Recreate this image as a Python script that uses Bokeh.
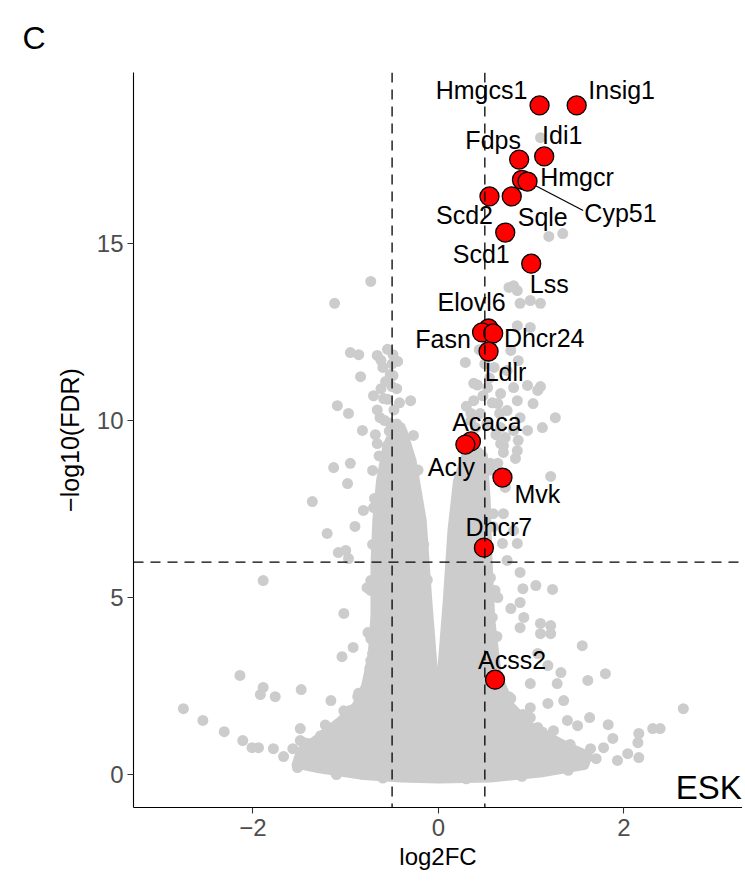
from bokeh.plotting import figure
from bokeh.models import ColumnDataSource, FixedTicker, Span
from bokeh.core.properties import value
from bokeh.embed import file_html
from bokeh.resources import INLINE

# ---------------- data ----------------
# highlighted genes
genes = ["Hmgcs1", "Insig1", "Idi1", "Fdps", "Hmgcr", "Cyp51", "Scd2", "Sqle", "Scd1", "Lss",
         "Elovl6", "Fasn", "Dhcr24", "Ldlr", "Acaca", "Acly", "Mvk", "Dhcr7", "Acss2"]
gene_log2fc = [1.09, 1.49, 1.14, 0.87, 0.90, 0.96, 0.55, 0.79, 0.72, 1.00,
               0.54, 0.47, 0.59, 0.54, 0.35, 0.29, 0.69, 0.49, 0.61]
gene_mlog10fdr = [18.9, 18.9, 17.46, 17.37, 16.80, 16.75, 16.33, 16.33, 15.31, 14.43,
                  12.60, 12.49, 12.46, 11.95, 9.41, 9.32, 8.39, 6.41, 2.68]

# scattered background genes (individually visible points)
bg_log2fc = [
    -0.73, -1.12, -0.95, -0.86, -0.66, -0.55, -0.49, -0.44, -0.84, -0.49, -0.50, -0.59, -0.30, -1.09,
    -0.97, -0.63, -0.52, -0.41, -0.27, -0.82, -0.66, -0.55, -1.13, -0.95, -0.71, -0.98, -1.36, -0.81,
    -0.70, -1.20, -0.90, -1.08, -1.00, -0.97, -1.89, -0.73, -0.77, -0.63, -0.65, -0.55, -0.65, -1.02,
    -0.63, -0.54, -0.76, -0.73, -0.57, -0.92, -1.04, -0.71, -0.65, -0.73, -0.65, -0.55, -2.14, -0.68,
    -0.59, -1.89, -1.92, -1.76, -1.48, -1.16, -0.87, -0.95, -0.84, -0.73, -0.63, -2.75, -2.54, -2.31,
    -2.11, -2.01, -1.94, -1.78, -1.67, -1.57, -1.49, -1.49, -1.40, -1.36, -1.27, -1.20, -1.27, -1.19,
    -1.06, -0.95, -0.92, -0.81, -1.41, -1.31,
    -0.60, -0.52, -0.62, -0.45, -0.55, -0.48, -0.66, -0.58, -0.45, -0.68, -0.40, -0.57, -0.35, -0.50,
    -0.62, -0.70, -0.42, -0.53,
    -0.74, -0.72, -0.73, -0.71, -0.69, -0.64, -0.22, -0.16, -0.12, -1.45, -1.22, -1.02, -0.86, -1.52,
    -1.10, -0.60,
    1.10, 1.19, 1.34, 0.76, 0.85, 0.99, 0.88, 1.10, 0.85, 0.99, 0.29, 0.78, 0.86, 0.74, 0.38, 0.53,
    0.67, 0.81, 0.96, 1.10, 1.02, 0.85, 0.64, 0.38, 0.35, 0.74, 0.88, 1.26, 0.67, 0.81, 0.96, 1.12,
    0.67, 0.86, 0.72, 0.85, 0.70, 0.83, 0.64, 0.56, 1.21, 0.72, 0.59, 0.70, 0.81, 0.69, 0.85, 0.74,
    0.88, 1.05, 0.91, 1.23, 0.56, 0.64, 0.78, 0.88, 0.92, 1.10, 1.21, 0.58, 1.55, 1.80, 1.61, 1.35,
    1.63, 1.83, 2.64, 2.31, 2.39, 2.16, 2.15, 2.04, 2.16, 1.93, 1.88, 1.78, 1.64, 1.50, 1.42, 1.24,
    1.07, 0.99, 1.18, 1.28, 1.32, 1.18, 1.07, 1.21, 1.10, 0.88, 0.99, 0.78, 0.99, 1.39, 1.50, 0.81,
    1.07,
    0.45, 0.52, 0.40, 0.58, 0.48, 0.62, 0.55, 0.42, 0.60, 0.50, 0.35, 0.66, 0.30, 0.57, 0.70, 0.44,
    0.56, 0.59, 0.61, 0.63, 0.76, 0.91, 1.12, 1.42, 1.70, 0.30, 0.90, 1.40,
]
bg_mlog10fdr = [
    13.93, 13.31, 11.92, 11.86, 11.84, 12.01, 11.86, 11.67, 11.24, 11.27, 10.96, 10.62, 10.56, 10.42,
    10.20, 10.08, 9.92, 9.80, 9.58, 9.72, 9.35, 9.29, 8.67, 8.79, 8.59, 8.22, 7.71, 7.46,
    7.54, 6.81, 7.01, 6.27, 6.33, 6.10, 5.48, 5.48, 5.28, 5.25, 5.06, 4.92, 4.72, 4.55,
    4.29, 4.12, 4.01, 3.84, 3.84, 3.59, 3.33, 3.42, 3.42, 3.22, 3.02, 3.02, 2.80, 2.60,
    2.60, 2.46, 2.26, 2.20, 2.40, 2.09, 2.20, 1.81, 1.81, 1.61, 2.09, 1.86, 1.53, 1.21,
    0.96, 0.76, 0.76, 0.73, 0.51, 0.73, 1.30, 0.96, 0.85, 0.45, 1.10, 1.16, 0.31, 0.17,
    1.19, 1.24, 1.33, 1.16, 0.88, 0.68,
    11.50, 11.30, 10.90, 10.90, 10.60, 10.30, 10.30, 10.00, 9.90, 9.60, 9.50, 11.10, 9.20, 11.60,
    11.70, 10.70, 10.50, 9.70,
    3.00, 4.00, 5.20, 6.50, 7.80, 9.00, 8.60, 6.50, 5.50, 0.90, 1.40, 1.80, 2.30, 0.20,
    0.00, -0.10,
    17.99, 15.20, 15.28, 13.76, 13.67, 13.39, 13.31, 13.31, 12.68, 12.63, 11.64, 11.98, 11.69, 11.41, 11.05, 10.93,
    10.76, 10.93, 10.99, 10.96, 10.48, 10.56, 10.48, 10.56, 10.20, 10.28, 10.08, 10.08, 9.80, 9.72, 9.72, 9.80,
    9.35, 9.44, 9.52, 9.15, 9.29, 8.93, 8.79, 8.79, 8.42, 8.11, 7.37, 7.37, 6.89, 6.53, 6.53, 6.05,
    5.71, 5.34, 5.25, 5.23, 5.56, 5.00, 4.69, 4.86, 4.44, 4.27, 4.21, 4.44, 3.64, 2.85, 2.66, 2.09,
    1.61, 1.41, 1.86, 1.30, 1.30, 1.16, 0.90, 0.59, 0.48, 0.40, 1.02, 0.76, 0.73, 0.59, 0.45, 1.24,
    1.33, 1.61, 2.01, 2.57, 2.88, 3.08, 3.42, 3.98, 3.98, 4.15, 2.57, 2.15, 1.89, 1.53, 1.38, 13.81,
    10.85,
    10.20, 9.90, 9.80, 10.50, 10.70, 9.60, 11.20, 11.00, 11.50, 11.60, 10.00, 10.20, 10.40, 12.20, 9.10, 12.00,
    8.60, 7.00, 5.20, 3.90, 2.20, 1.70, 1.20, 0.85, 0.45, -0.12, -0.05, 0.12,
]

# outline of the solid, fully overlapped mass of background points
dense_log2fc = [0.00, -0.41, -0.84, -1.27, -1.54, -1.49, -1.27, -1.06, -0.89, -0.79, -0.72, -0.69, -0.69,
                -0.67, -0.63, -0.56, -0.46, -0.38, -0.28, -0.17, -0.11, -0.05, -0.01, 0.03, 0.09, 0.14,
                0.20, 0.29, 0.40, 0.49, 0.52, 0.54, 0.57, 0.64, 0.78, 0.99, 1.32, 1.62, 1.58, 1.10, 0.56]
dense_mlog10fdr = [-0.14, -0.11, -0.03, 0.14, 0.28, 0.68, 1.10, 1.53, 1.95, 2.51, 3.36, 4.49, 5.90,
                   7.18, 8.30, 9.29, 9.86, 9.72, 8.87, 7.18, 4.92, 2.94, 1.67, 2.94, 4.92, 6.89,
                   8.30, 9.01, 9.21, 9.01, 7.74, 6.05, 4.35, 2.80, 1.95, 1.38, 0.90, 0.54, 0.25, 0.03, -0.11]

fc_cutoffs = [-0.5, 0.5]
fdr_cutoff = 6
x_ticks = [-2, 0, 2]
x_tick_labels = {-2: "\u22122", 0: "0", 2: "2"}
y_ticks = [0, 5, 10, 15]
panel_tag = "ESK"

# ---------------- label layout (pixel offsets of each label from its point) ----------------
label_offsets = {
    "Hmgcs1": (-58, -15), "Insig1": (45, -15), "Idi1": (18, -21), "Fdps": (-26, -20),
    "Hmgcr": (55, -3), "Cyp51": (93, 31), "Scd2": (-25, 19), "Sqle": (31, 21),
    "Scd1": (-24, 21), "Lss": (18, 20), "Elovl6": (-17, -26), "Fasn": (-39, 7),
    "Dhcr24": (51, 5), "Ldlr": (17, 21), "Acaca": (16, -19), "Acly": (-14, 22),
    "Mvk": (35, 16), "Dhcr7": (15, -21), "Acss2": (17, -20),
}
cyp51_segment_end = (1.56, 15.93)
tag_position = (3.27, -0.37)

FONT = "Liberation Sans"

p = figure(width=742, height=873, x_range=(-3.288, 3.278), y_range=(-0.93, 19.83),
           output_backend="svg", toolbar_location=None,
           min_border_left=133, min_border_right=0, min_border_top=72, min_border_bottom=66)
p.outline_line_color = None
p.xgrid.visible = False
p.ygrid.visible = False
p.background_fill_color = "white"
p.border_fill_color = "white"

# background
p.patch(dense_log2fc, dense_mlog10fdr, fill_color="#CCCCCC", line_color="#CCCCCC", line_width=8,
        line_join="round")
p.scatter(bg_log2fc, bg_mlog10fdr, size=11, fill_color="#CCCCCC", line_color=None)

# cutoffs
for c in fc_cutoffs:
    p.add_layout(Span(location=c, dimension="height", line_color="black", line_width=1.3,
                      line_dash="10 7", level="glyph"))
p.add_layout(Span(location=fdr_cutoff, dimension="width", line_color="black", line_width=1.3,
                  line_dash="10 7", level="glyph"))

# label segment for Cyp51
ci = genes.index("Cyp51")
p.segment(x0=[gene_log2fc[ci]], y0=[gene_mlog10fdr[ci]], x1=[cyp51_segment_end[0]],
          y1=[cyp51_segment_end[1]], line_color="black", line_width=1.2)

src = ColumnDataSource(dict(
    x=gene_log2fc, y=gene_mlog10fdr, gene=genes,
    dx=[label_offsets[g][0] for g in genes], dy=[label_offsets[g][1] for g in genes],
))
p.scatter("x", "y", source=src, size=19, fill_color="#FF0000", line_color="black", line_width=1.3)
p.text("x", "y", text="gene", x_offset="dx", y_offset="dy", source=src,
       text_align="center", text_baseline="middle", text_font=value(FONT),
       text_font_size="25px", text_color="black")

p.text(x=[tag_position[0]], y=[tag_position[1]], text=[panel_tag], text_align="right",
       text_baseline="middle", text_font=value(FONT), text_font_size="33px", text_color="black")

# axes
for ax in (p.xaxis[0], p.yaxis[0]):
    ax.axis_line_color = "black"
    ax.axis_line_width = 1.1
    ax.major_tick_line_color = "#333333"
    ax.major_tick_line_width = 1.1
    ax.major_tick_out = 6
    ax.major_tick_in = 0
    ax.minor_tick_line_color = None
    ax.major_label_text_font = FONT
    ax.major_label_text_font_size = "24px"
    ax.major_label_text_color = "#4D4D4D"
    ax.axis_label_text_font = FONT
    ax.axis_label_text_font_style = "normal"
    ax.axis_label_text_color = "black"

p.xaxis.axis_label_text_font_size = "24px"
p.yaxis.axis_label_text_font_size = "25px"
p.xaxis.ticker = FixedTicker(ticks=x_ticks)
p.xaxis.major_label_overrides = x_tick_labels
p.yaxis.ticker = FixedTicker(ticks=y_ticks)
p.xaxis.axis_label = "log2FC"
p.yaxis.axis_label = "\u2212log10(FDR)"
p.xaxis.major_label_standoff = 5
p.yaxis.major_label_standoff = 4
p.xaxis.axis_label_standoff = 4
p.yaxis.axis_label_standoff = 10

p.title.text = "C"
p.title.text_font = FONT
p.title.text_font_size = "32px"
p.title.text_font_style = "normal"
p.title.text_color = "black"
p.title.align = "left"
p.title.offset = -111
p.title.standoff = 33

open("out.html", "w").write(file_html(p, INLINE))
